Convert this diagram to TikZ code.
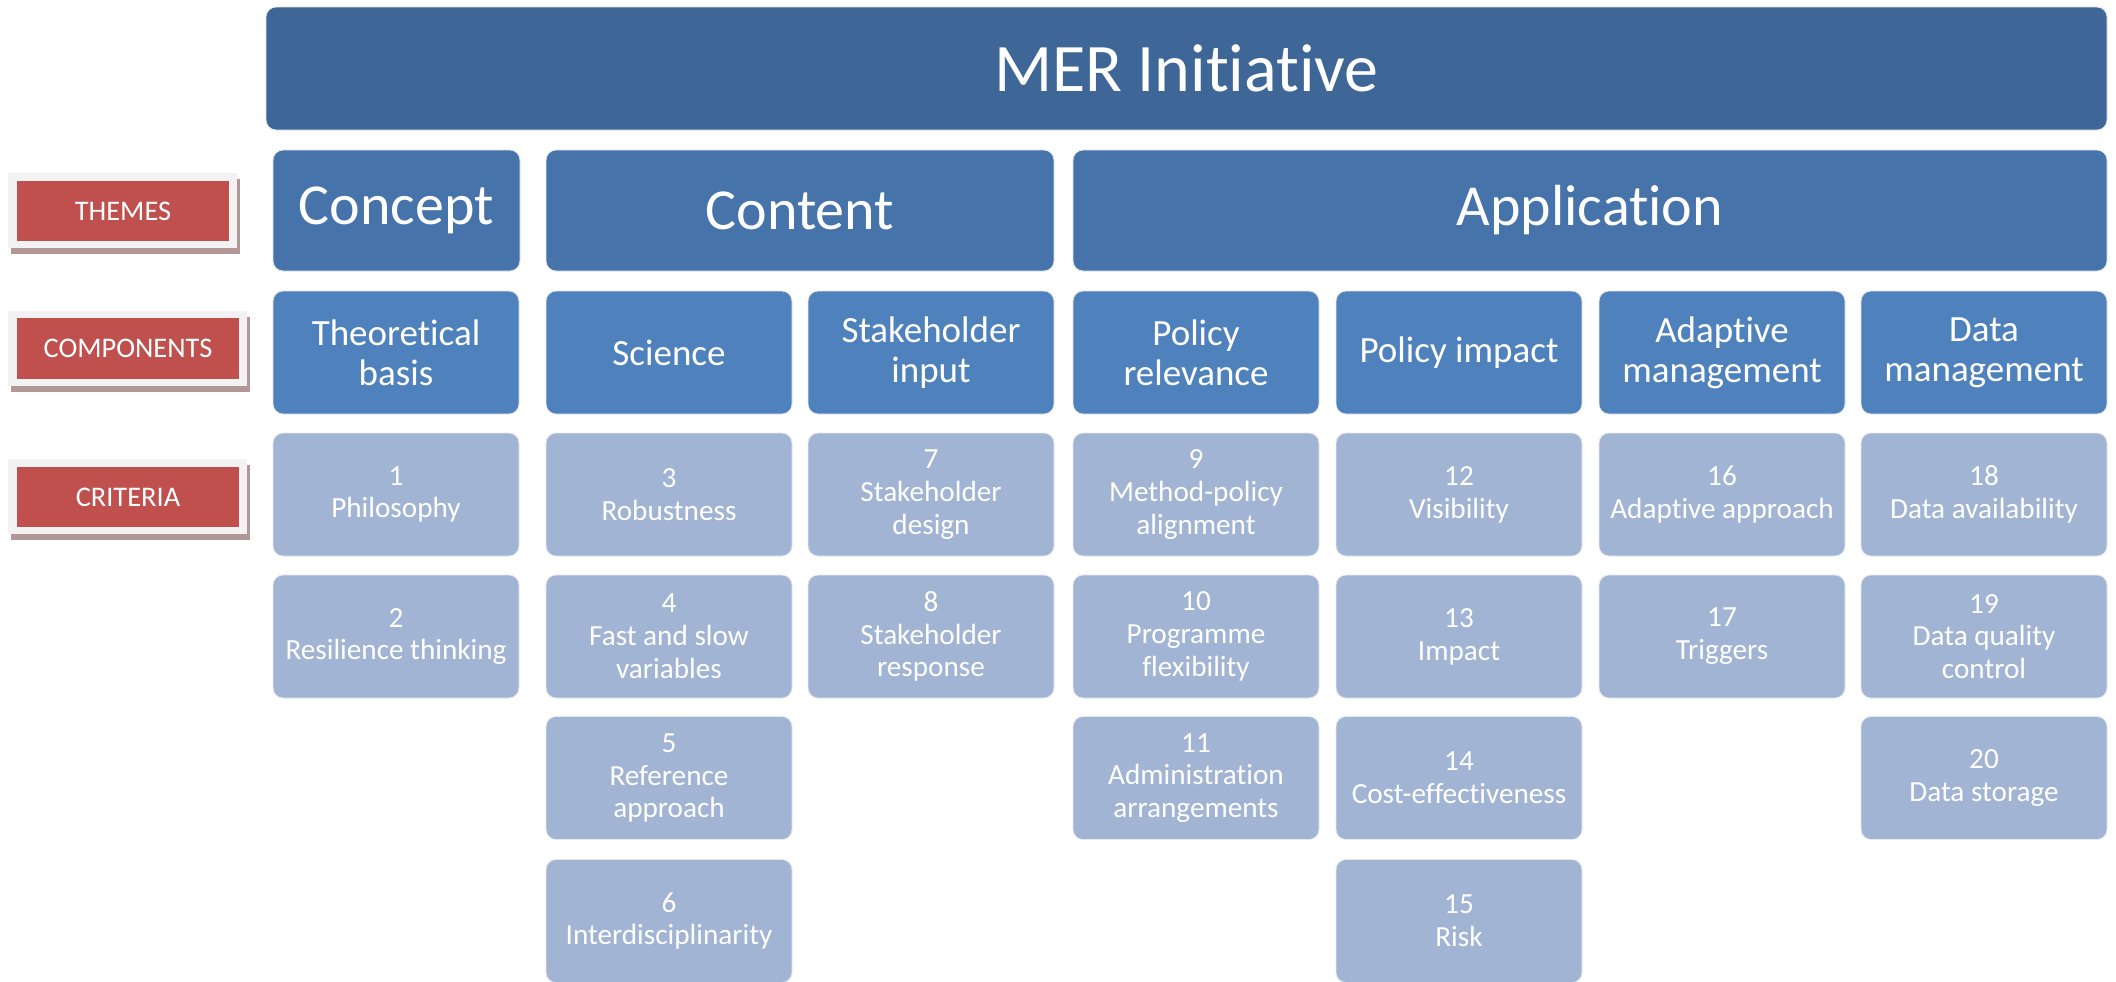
\documentclass[tikz,border=0pt]{standalone}
\usepackage{fontspec}
\setmainfont{Carlito}[RawFeature={-liga;-clig}]
\definecolor{topc}{HTML}{3E6697}
\definecolor{themec}{HTML}{4674AA}
\definecolor{compc}{HTML}{4F81BD}
\definecolor{critc}{HTML}{A2B4D4}
\definecolor{redc}{HTML}{C0504D}
\definecolor{framec}{HTML}{F2F2F2}
\definecolor{shadc}{HTML}{B39696}
\tikzset{
  box/.style={rounded corners=5pt, text=white, align=center, inner sep=0pt, draw=white!70!critc, line width=0.4pt},
  crit/.style={box, fill=critc, minimum width=123pt, minimum height=61.5pt, font=\fontsize{14.6}{16.4}\selectfont},
  comp/.style={box, fill=compc, minimum width=123pt, minimum height=61.5pt, font=\fontsize{18.5}{20}\selectfont},
  theme/.style={box, fill=themec, minimum height=60.5pt, font=\fontsize{29}{34}\selectfont},
  topbox/.style={box, fill=topc, minimum width=920.5pt, minimum height=61.5pt, font=\fontsize{34}{40}\selectfont},
  lblframe/.style={fill=framec, draw=none},
  lblshadow/.style={fill=shadc, draw=none},
  lbltext/.style={fill=redc, text=white, inner sep=0pt, font=\fontsize{14.2}{16}\selectfont}
}
\begin{document}
\begin{tikzpicture}[x=0.5pt,y=-0.5pt]
\useasboundingbox (0,0) rectangle (2116,981);

% top
\node[topbox] (mer) at (1186.5,68.5) {MER Initiative};

% themes
\node[theme, minimum width=123.5pt] (concept) at (396.5,210.5) {Concept};
\node[theme, minimum width=254pt] (content) at (800,210.5) {Content};
\node[theme, minimum width=517pt] (application) at (1590,210.5) {Application};

% components
\node[comp] (c1) at (396,352.5) {Theoretical\\basis};
\node[comp] (c2) at (669,352.5) {Science};
\node[comp] (c3) at (931,352.5) {Stakeholder\\input};
\node[comp] (c4) at (1196,352.5) {Policy\\relevance};
\node[comp] (c5) at (1459,352.5) {Policy impact};
\node[comp] (c6) at (1722,352.5) {Adaptive\\management};
\node[comp] (c7) at (1984,352.5) {Data\\management};

% criteria
\node[crit] (k1) at (396,494.5) {1\\Philosophy};
\node[crit] (k2) at (396,636.5) {2\\Resilience thinking};
\node[crit] (k3) at (669,494.5) {3\\Robustness};
\node[crit] (k4) at (669,636.5) {4\\Fast and slow\\variables};
\node[crit] (k5) at (669,778) {5\\Reference\\approach};
\node[crit] (k6) at (669,921) {6\\Interdisciplinarity};
\node[crit] (k7) at (931,494.5) {7\\Stakeholder\\design};
\node[crit] (k8) at (931,636.5) {8\\Stakeholder\\response};
\node[crit] (k9) at (1196,494.5) {9\\Method-policy\\alignment};
\node[crit] (k10) at (1196,636.5) {10\\Programme\\flexibility};
\node[crit] (k11) at (1196,778) {11\\Administration\\arrangements};
\node[crit] (k12) at (1459,494.5) {12\\Visibility};
\node[crit] (k13) at (1459,636.5) {13\\Impact};
\node[crit] (k14) at (1459,778) {14\\Cost-effectiveness};
\node[crit] (k15) at (1459,921) {15\\Risk};
\node[crit] (k16) at (1722,494.5) {16\\Adaptive approach};
\node[crit] (k17) at (1722,636.5) {17\\Triggers};
\node[crit] (k18) at (1984,494.5) {18\\Data availability};
\node[crit] (k19) at (1984,636.5) {19\\Data quality\\control};
\node[crit] (k20) at (1984,778) {20\\Data storage};

% row labels
\fill[lblshadow] (11,179) rectangle (240,254);
\fill[lblframe] (8,173) rectangle (237,248);
\node[lbltext, minimum width=106pt, minimum height=30pt] (lthemes) at (123,211) {THEMES};

\fill[lblshadow] (11,317) rectangle (250,392);
\fill[lblframe] (8,311) rectangle (247,386);
\node[lbltext, minimum width=111pt, minimum height=30.5pt] (lcomp) at (128,348.5) {COMPONENTS};

\fill[lblshadow] (11,465) rectangle (250,540);
\fill[lblframe] (8,459) rectangle (247,534);
\node[lbltext, minimum width=111pt, minimum height=30pt] (lcrit) at (128,497) {CRITERIA};
\end{tikzpicture}
\end{document}
